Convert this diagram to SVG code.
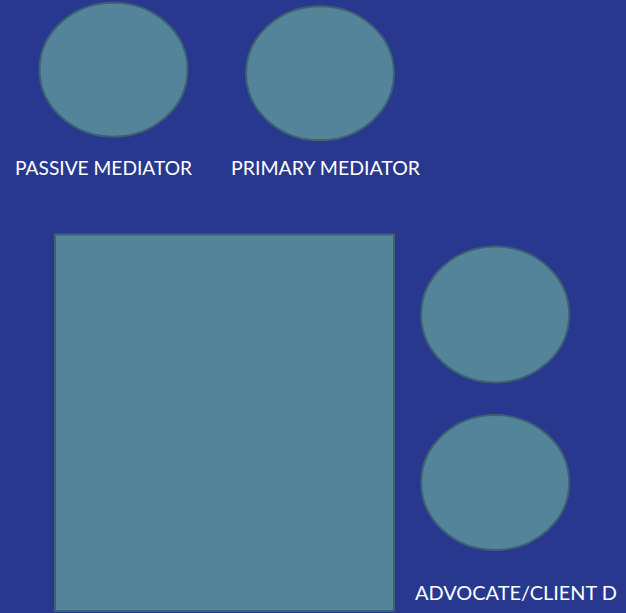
<svg xmlns="http://www.w3.org/2000/svg" width="626" height="613" viewBox="0 0 626 613">
<style>
.n{fill:#548499;stroke:#3c6173;stroke-width:2}
.t{fill:#ffffff;font-family:"Lato","Liberation Sans",sans-serif;font-size:19px}
</style>
<rect width="626" height="613" fill="#29388f"/>
<g id="passive"><ellipse class="n" cx="113.5" cy="69.7" rx="74" ry="67"/></g>
<g id="primary"><ellipse class="n" cx="320" cy="73.3" rx="74" ry="67"/></g>
<g id="box"><rect class="n" x="55" y="234.5" width="339" height="376.5"/></g>
<g id="circle3"><ellipse class="n" cx="495.2" cy="314.5" rx="74" ry="68"/></g>
<g id="circle4"><ellipse class="n" cx="495.2" cy="482.5" rx="74" ry="67.5"/></g>
<g id="connectors"></g>
<g id="labels">
<text class="t" x="15" y="175" textLength="177" lengthAdjust="spacingAndGlyphs">PASSIVE MEDIATOR</text>
<text class="t" x="231" y="175" textLength="189" lengthAdjust="spacingAndGlyphs">PRIMARY MEDIATOR</text>
<text class="t" x="415" y="600" textLength="202" lengthAdjust="spacingAndGlyphs">ADVOCATE/CLIENT D</text>
</g>
</svg>
